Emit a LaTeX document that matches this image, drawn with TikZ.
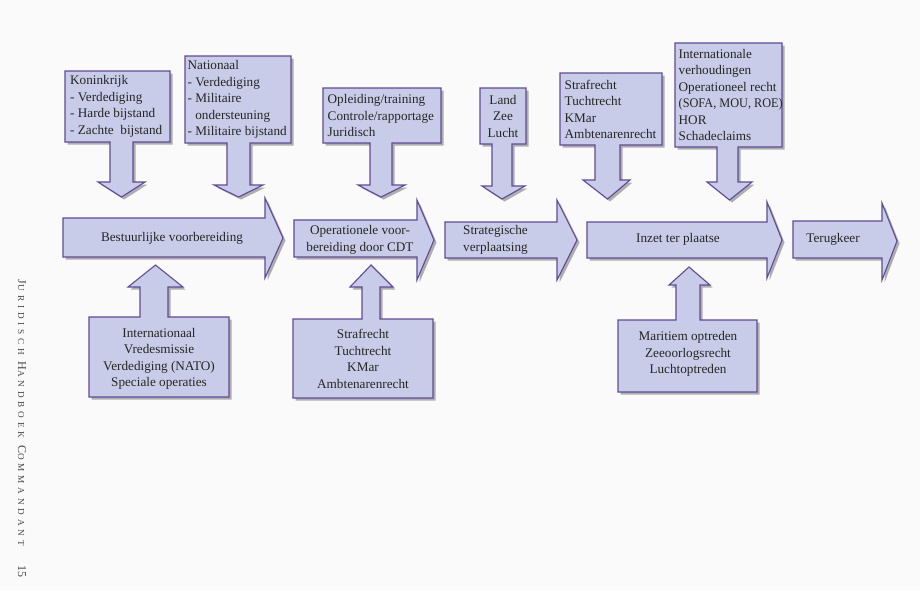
\documentclass[tikz,border=0pt]{standalone}
\usepackage{fontspec}
\setmainfont{Liberation Serif}
\newfontfamily\sidefont[LetterSpace=42]{Liberation Serif}
\usetikzlibrary{shadows}
\definecolor{blkfill}{RGB}{200,204,232}
\definecolor{blkline}{RGB}{95,75,150}
\definecolor{pagebg}{RGB}{250,250,250}
\begin{document}
\begin{tikzpicture}[x=1pt,y=-1pt,
  blk/.style={fill=blkfill, draw=blkline, line width=1.1pt, line join=miter,
    drop shadow={shadow xshift=2.5pt, shadow yshift=-2.5pt, fill=black, opacity=0.3}},
  txt/.style={inner sep=0pt, font=\fontsize{13.2}{16.5}\selectfont, text=black!85},
  lft/.style={txt, anchor=west, align=left},
  ctr/.style={txt, align=center},
  side/.style={rotate=-90, inner sep=0pt, text=black!70}]
\fill[pagebg] (0,0) rectangle (920,590);
\useasboundingbox (0,0) rectangle (920,590);

% ---------- top boxes with down arrows ----------
\path[blk] (65,71) -- (170,71) -- (170,142) -- (133,142) -- (133,182) -- (145,182) -- (121.5,197) -- (98,182) -- (110,182) -- (110,142) -- (65,142) -- cycle;
\node[lft] (koninkrijk) at (70,106.5) {Koninkrijk\\- Verdediging\\- Harde bijstand\\- Zachte\ \ bijstand};

\path[blk] (185,56) -- (291,56) -- (291,143) -- (250,143) -- (250,185) -- (263,185) -- (238.5,197) -- (214,185) -- (227,185) -- (227,143) -- (185,143) -- cycle;
\node[lft] (nationaal) at (187.5,99.5) {Nationaal\\- Verdediging\\- Militaire\\\hphantom{-\ }ondersteuning\\- Militaire bijstand};

\path[blk] (323,88) -- (441,88) -- (441,143) -- (392,143) -- (392,185) -- (405,185) -- (381,197) -- (358,185) -- (370,185) -- (370,143) -- (323,143) -- cycle;
\node[lft] (opleiding) at (327.5,115.5) {Opleiding/training\\Controle/rapportage\\Juridisch};

\path[blk] (480,88) -- (526,88) -- (526,144) -- (512,144) -- (512,186) -- (525,186) -- (502,199) -- (482,186) -- (492,186) -- (492,144) -- (480,144) -- cycle;
\node[ctr] (land) at (503,116) {Land\\Zee\\Lucht};

\path[blk] (560,73) -- (662,73) -- (662,145) -- (620,145) -- (620,180) -- (630,180) -- (607.5,199) -- (583,180) -- (595,180) -- (595,145) -- (560,145) -- cycle;
\node[lft] (strafrechtTop) at (564.5,109.5) {Strafrecht\\Tuchtrecht\\KMar\\Ambtenarenrecht};

\path[blk] (675,43) -- (782,43) -- (782,147) -- (738,147) -- (738,182) -- (752,182) -- (729.5,200) -- (707,182) -- (717,182) -- (717,147) -- (675,147) -- cycle;
\node[lft] (internationale) at (678.5,95) {Internationale\\verhoudingen\\Operationeel recht\\\scalebox{0.93}[1]{(SOFA, MOU, ROE)}\\HOR\\Schadeclaims};

% ---------- bottom boxes with up arrows ----------
\path[blk] (89,397) -- (229,397) -- (229,317) -- (168,317) -- (168,287) -- (183,287) -- (155.5,265) -- (128,287) -- (140,287) -- (140,317) -- (89,317) -- cycle;
\node[ctr] (internationaal) at (159,359) {Internationaal\\Vredesmissie\\Verdediging (NATO)\\Speciale operaties};

\path[blk] (293,398) -- (433,398) -- (433,319) -- (380,319) -- (380,287) -- (393,287) -- (371,265) -- (350,287) -- (362,287) -- (362,319) -- (293,319) -- cycle;
\node[ctr] (strafrechtBot) at (363,359) {Strafrecht\\Tuchtrecht\\KMar\\Ambtenarenrecht};

\path[blk] (618,392) -- (757,392) -- (757,320) -- (700,320) -- (700,285) -- (710,285) -- (689,267) -- (669,285) -- (676,285) -- (676,320) -- (618,320) -- cycle;
\node[ctr] (maritiem) at (688,354) {Maritiem optreden\\Zeeoorlogsrecht\\Luchtoptreden};

% ---------- main process arrows ----------
\path[blk] (63,218) -- (265,218) -- (265,198) -- (283,238) -- (265,278) -- (265,257) -- (63,257) -- cycle;
\node[ctr] (bestuurlijk) at (172,238) {Bestuurlijke voorbereiding};

\path[blk] (294,220) -- (417,220) -- (417,200) -- (434,240) -- (417,280) -- (417,257) -- (294,257) -- cycle;
\node[ctr] (operationeel) at (360,240) {Operationele voor-\\bereiding door CDT};

\path[blk] (445,222) -- (557,222) -- (557,200) -- (577,240) -- (557,280) -- (557,258) -- (445,258) -- cycle;
\node[lft] (strategisch) at (463,240) {Strategische\\verplaatsing};

\path[blk] (587,222) -- (767,222) -- (767,202) -- (782,240) -- (767,278) -- (767,258) -- (587,258) -- cycle;
\node[ctr] (inzet) at (678,239) {Inzet ter plaatse};

\path[blk] (793,221) -- (882,221) -- (882,203) -- (897,241) -- (882,280) -- (882,258) -- (793,258) -- cycle;
\node[ctr] (terugkeer) at (833,239) {Terugkeer};

% ---------- side caption ----------
\node[side] (sidecaption) at (22,413) {\sidefont{\fontsize{12}{14}\selectfont J}{\fontsize{9.2}{14}\selectfont URIDISCH} {\fontsize{12}{14}\selectfont H}{\fontsize{9.2}{14}\selectfont ANDBOEK} {\fontsize{12}{14}\selectfont C}{\fontsize{9.2}{14}\selectfont OMMANDANT}};
\node[side] (pagenum) at (22,571) {\fontsize{12}{14}\selectfont 15};
\end{tikzpicture}
\end{document}
